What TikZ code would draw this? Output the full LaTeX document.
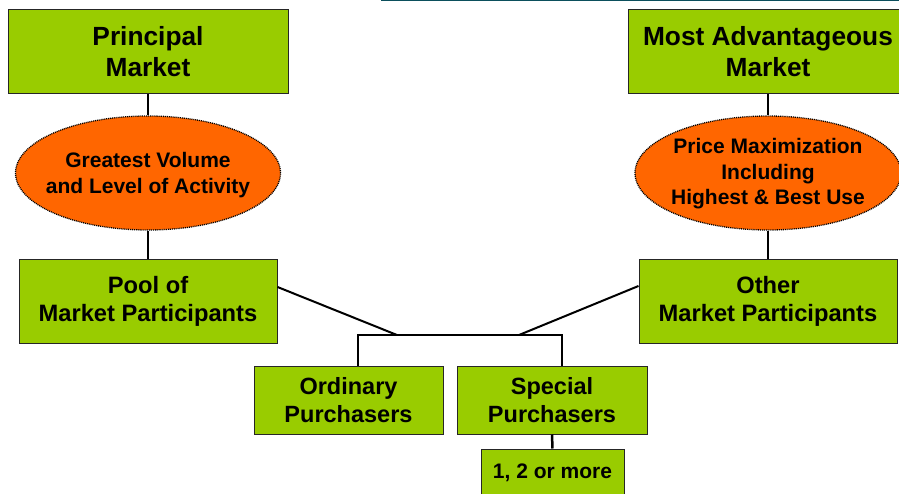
\documentclass[tikz,border=0pt]{standalone}
\usepackage{fontspec}
\setmainfont{Liberation Sans}
\usetikzlibrary{shapes.geometric}
\definecolor{boxgreen}{HTML}{99CC00}
\definecolor{ovalorange}{HTML}{FF6600}
\definecolor{rulecol}{HTML}{0B4F5C}
\begin{document}
\begin{tikzpicture}[x=1pt,y=-1pt,
  box/.style={rectangle, fill=boxgreen, draw=black!85, line width=1pt,
    inner sep=0pt, align=center, font=\bfseries},
  oval/.style={ellipse, fill=ovalorange, draw=black, line width=1.3pt,
    dash pattern=on 1pt off 0.9pt, inner sep=0pt},
  ovaltext/.style={inner sep=0pt, align=center,
    font=\bfseries\fontsize{21}{26}\selectfont},
  link/.style={draw=black, line width=2.5pt},
  branch/.style={draw=black, line width=2pt}]
  \clip (0,0) rectangle (899,494);
  \fill[white] (0,0) rectangle (899,494);
  % thin rule along the top edge
  \draw[rulecol, line width=1.6pt] (381,0.5) -- (899,0.5);

  % market boxes
  \node[box, minimum width=280pt, minimum height=84pt,
        font=\bfseries\fontsize{26.3}{31}\selectfont] (principal) at (148,52) {Principal\\Market};
  \node[box, minimum width=280pt, minimum height=84pt,
        font=\bfseries\fontsize{26.3}{31}\selectfont] (most) at (768,52) {Most Advantageous\\Market};

  % criteria ovals and their captions
  \node[oval, minimum width=265pt, minimum height=114pt] (volume) at (148,173) {};
  \node[ovaltext] (volumetext) at ([yshift=-2pt]volume.center)
    {Greatest Volume\\and Level of Activity};
  \node[oval, minimum width=266pt, minimum height=114pt] (price) at (768,173) {};
  \node[ovaltext, font=\bfseries\fontsize{21}{25.5}\selectfont] (pricetext)
    at ([yshift=-1pt]price.center)
    {Price Maximization\\Including\\Highest \& Best Use};

  % participant pools
  \node[box, minimum width=258pt, minimum height=83pt,
        font=\bfseries\fontsize{23.7}{28.5}\selectfont] (pool) at (148,301.5)
    {Pool of\\Market Participants};
  \node[box, minimum width=258pt, minimum height=83pt,
        font=\bfseries\fontsize{23.7}{28.5}\selectfont] (other) at (768,301.5)
    {Other\\Market Participants};

  % purchaser types
  \node[box, minimum width=189pt, minimum height=68pt,
        font=\bfseries\fontsize{23.5}{28.5}\selectfont] (ordinary) at (348.5,400)
    {Ordinary\\Purchasers};
  \node[box, minimum width=190pt, minimum height=68pt,
        font=\bfseries\fontsize{23.5}{28.5}\selectfont] (special) at (552,400)
    {Special\\Purchasers};
  \node[box, minimum width=143pt, minimum height=48pt,
        font=\bfseries\fontsize{21}{26}\selectfont] (count) at (552.5,473)
    {1, 2 or more};

  % junction points of the purchaser bar
  \coordinate (barL) at (358,335);
  \coordinate (barR) at (562,335);
  \coordinate (jl) at (397,335);
  \coordinate (jr) at (519,335);

  % connectors
  \draw[link] (principal.south) -- (volume.north);
  \draw[link] (volume.south) -- (pool.north);
  \draw[link] (most.south) -- (price.north);
  \draw[link] (price.south) -- (other.north);
  \draw[branch] ([yshift=14.5pt]pool.east) -- (jl);
  \draw[branch] ([yshift=15.5pt]other.west) -- (jr);
  \draw[branch] ([xshift=9.5pt]ordinary.north) -- (barL) -- (barR) -- ([xshift=10pt]special.north);
  \draw[link] (special.south) -- (count.north);
\end{tikzpicture}
\end{document}
